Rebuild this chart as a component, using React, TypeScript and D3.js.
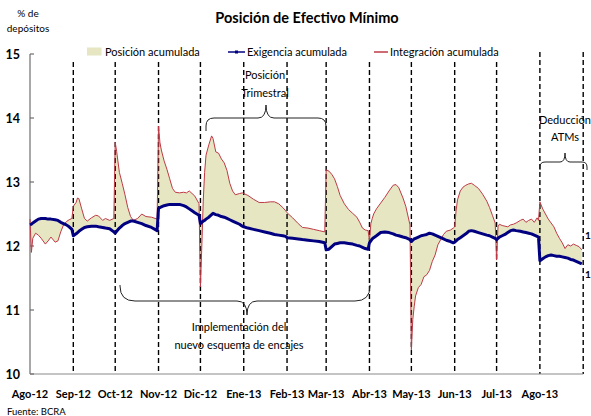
import React from "react";
import * as d3 from "d3";

const fechas = [
  "2012-08-01","2012-08-02","2012-08-03","2012-08-05","2012-08-07","2012-08-09","2012-08-12","2012-08-14","2012-08-16","2012-08-19","2012-08-21","2012-08-23","2012-08-25","2012-08-27","2012-08-29","2012-08-31",
  "2012-09-01","2012-09-03","2012-09-04","2012-09-05","2012-09-07","2012-09-09","2012-09-11","2012-09-14","2012-09-17","2012-09-19","2012-09-22","2012-09-24","2012-09-27","2012-09-30",
  "2012-10-01","2012-10-02","2012-10-04","2012-10-06","2012-10-08","2012-10-10","2012-10-12","2012-10-14","2012-10-17","2012-10-20","2012-10-23","2012-10-27","2012-10-31",
  "2012-11-01","2012-11-02","2012-11-03","2012-11-05","2012-11-07","2012-11-09","2012-11-11","2012-11-13","2012-11-16","2012-11-19","2012-11-21","2012-11-23","2012-11-25","2012-11-27","2012-11-30",
  "2012-12-01","2012-12-02","2012-12-03","2012-12-04","2012-12-05","2012-12-07","2012-12-09","2012-12-10","2012-12-12","2012-12-14","2012-12-16","2012-12-18","2012-12-20","2012-12-22","2012-12-24","2012-12-26","2012-12-29","2012-12-31",
  "2013-01-01","2013-01-04","2013-01-08","2013-01-12","2013-01-16","2013-01-20","2013-01-23","2013-01-26","2013-01-29","2013-01-31",
  "2013-02-01","2013-02-05","2013-02-09","2013-02-12","2013-02-16","2013-02-20","2013-02-24","2013-02-28",
  "2013-03-01","2013-03-03","2013-03-05","2013-03-07","2013-03-09","2013-03-11","2013-03-14","2013-03-17","2013-03-20","2013-03-23","2013-03-25","2013-03-27","2013-03-29","2013-03-31",
  "2013-04-01","2013-04-02","2013-04-03","2013-04-04","2013-04-06","2013-04-09","2013-04-12","2013-04-15","2013-04-18","2013-04-20","2013-04-22","2013-04-25","2013-04-27","2013-04-30",
  "2013-05-01","2013-05-02","2013-05-03","2013-05-04","2013-05-06","2013-05-08","2013-05-10","2013-05-12","2013-05-14","2013-05-16","2013-05-18","2013-05-20","2013-05-22","2013-05-24","2013-05-26","2013-05-29","2013-05-31",
  "2013-06-01","2013-06-02","2013-06-03","2013-06-05","2013-06-07","2013-06-09","2013-06-11","2013-06-13","2013-06-15","2013-06-18","2013-06-21","2013-06-24","2013-06-26","2013-06-28","2013-06-30",
  "2013-07-01","2013-07-02","2013-07-03","2013-07-05","2013-07-07","2013-07-09","2013-07-11","2013-07-13","2013-07-15","2013-07-18","2013-07-20","2013-07-22","2013-07-24","2013-07-26","2013-07-28","2013-07-30","2013-07-31",
  "2013-08-01","2013-08-03","2013-08-05","2013-08-07","2013-08-09","2013-08-11","2013-08-13","2013-08-15","2013-08-17","2013-08-19","2013-08-21","2013-08-23","2013-08-25","2013-08-27","2013-08-29","2013-08-31",
];

const exigencia = [
  12.33,12.34,12.36,12.39,12.42,12.43,12.43,12.42,12.42,12.41,12.40,12.37,12.35,12.33,12.30,12.26,
  12.16,12.19,12.21,12.23,12.26,12.29,12.30,12.31,12.31,12.30,12.29,12.28,12.27,12.22,
  12.20,12.23,12.28,12.32,12.35,12.37,12.39,12.39,12.37,12.35,12.32,12.29,12.24,
  12.59,12.60,12.61,12.63,12.64,12.65,12.65,12.65,12.65,12.63,12.61,12.58,12.55,12.52,12.48,
  12.35,12.37,12.39,12.40,12.42,12.45,12.49,12.51,12.49,12.48,12.46,12.45,12.43,12.41,12.39,12.37,12.34,12.31,
  12.30,12.28,12.26,12.24,12.22,12.20,12.18,12.17,12.16,12.15,
  12.13,12.12,12.11,12.10,12.09,12.08,12.07,12.05,
  11.94,11.95,11.99,12.03,12.04,12.05,12.05,12.04,12.03,12.01,12.00,11.98,11.96,11.95,
  12.05,12.08,12.11,12.13,12.16,12.21,12.22,12.21,12.19,12.17,12.16,12.14,12.13,12.10,
  12.07,12.09,12.11,12.12,12.14,12.16,12.17,12.18,12.20,12.19,12.17,12.15,12.13,12.11,12.09,12.07,12.05,
  12.06,12.08,12.10,12.13,12.16,12.19,12.23,12.24,12.23,12.21,12.19,12.17,12.16,12.14,12.12,
  12.10,12.12,12.14,12.16,12.18,12.21,12.24,12.25,12.24,12.23,12.22,12.21,12.20,12.19,12.17,12.15,12.14,
  11.77,11.80,11.83,11.85,11.86,11.85,11.84,11.84,11.83,11.82,11.81,11.79,11.78,11.76,11.74,11.72,
];

const integracion = [
  12.42,11.90,12.12,12.20,12.17,12.12,12.03,12.08,12.14,12.06,12.08,12.22,12.33,12.38,12.41,12.43,
  12.62,12.68,12.75,12.74,12.58,12.43,12.39,12.44,12.48,12.47,12.40,12.43,12.40,12.43,
  13.62,13.48,13.15,12.98,12.80,12.60,12.46,12.40,12.43,12.50,12.46,12.45,12.42,
  13.87,13.62,13.50,13.33,13.20,13.05,12.90,12.84,12.83,12.84,12.83,12.86,12.82,12.78,12.66,
  11.36,12.00,12.70,13.15,13.42,13.58,13.72,13.68,13.47,13.45,13.36,13.30,13.18,12.98,12.86,12.80,12.82,12.83,
  12.82,12.79,12.73,12.68,12.68,12.69,12.69,12.66,12.60,12.55,
  12.52,12.44,12.35,12.29,12.28,12.26,12.24,12.22,
  13.19,13.17,13.12,13.05,12.93,12.79,12.66,12.57,12.51,12.45,12.37,12.28,12.25,12.24,
  12.09,12.35,12.43,12.50,12.58,12.67,12.76,12.86,12.95,12.96,12.91,12.75,12.62,12.33,
  10.38,10.85,11.05,11.22,11.35,11.40,11.52,11.55,11.62,11.76,11.86,12.02,12.10,12.18,12.23,12.25,12.28,
  12.30,12.55,12.72,12.86,12.92,12.95,12.97,12.98,12.95,12.90,12.81,12.70,12.60,12.48,12.36,
  11.78,12.30,12.34,12.32,12.31,12.30,12.33,12.34,12.36,12.40,12.42,12.37,12.40,12.42,12.37,12.44,12.40,
  12.69,12.58,12.50,12.42,12.36,12.30,12.20,12.12,12.05,11.96,12.02,12.00,12.03,12.01,11.99,11.94,
];

const mesesEtiquetas = ["Ago-12","Sep-12","Oct-12","Nov-12","Dic-12","Ene-13","Feb-13","Mar-13","Abr-13","May-13","Jun-13","Jul-13","Ago-13"];
const mesesFechas = ["2012-08-01","2012-09-01","2012-10-01","2012-11-01","2012-12-01","2013-01-01","2013-02-01","2013-03-01","2013-04-01","2013-05-01","2013-06-01","2013-07-01","2013-08-01"];
const divisiones = ["2012-09-01","2012-10-01","2012-11-01","2012-12-01","2013-01-01","2013-02-01","2013-03-01","2013-04-01","2013-05-01","2013-06-01","2013-07-01","2013-08-01","2013-09-01"];
const yTicks = [10, 11, 12, 13, 14, 15];

const FONT = "Lato, 'Open Sans', 'DejaVu Sans', sans-serif";
const parse = d3.timeParse("%Y-%m-%d");

function brace(x1: number, x2: number, yl: number, endDy: number, tipX: number, tipDy: number, rEnd: number, rTip: number) {
  const sE = Math.sign(endDy);
  return [
    `M${x1},${yl + endDy}`,
    `L${x1},${yl + sE * rEnd}`,
    `Q${x1},${yl} ${x1 + rEnd},${yl}`,
    `L${tipX - rTip},${yl}`,
    `Q${tipX},${yl} ${tipX},${yl + tipDy}`,
    `Q${tipX},${yl} ${tipX + rTip},${yl}`,
    `L${x2 - rEnd},${yl}`,
    `Q${x2},${yl} ${x2},${yl + sE * rEnd}`,
    `L${x2},${yl + endDy}`,
  ].join(" ");
}

export default function App() {
  const x = d3.scaleTime().domain([parse("2012-08-01")!, parse("2013-09-01")!]).range([30, 583.2]);
  const y = d3.scaleLinear().domain([10, 15]).range([374, 54]);

  const data = fechas.map((f, i) => ({ d: parse(f)!, e: exigencia[i], g: integracion[i] }));

  const area = d3.area<any>().x((p) => x(p.d)).y0((p) => y(p.e)).y1((p) => y(p.g));
  const lineE = d3.line<any>().x((p) => x(p.d)).y((p) => y(p.e));
  const lineG = d3.line<any>().x((p) => x(p.d)).y((p) => y(p.g));

  const navy = "#000080";
  const red = "#BE3A46";
  const fill = "#E6E6C3";

  return (
    <div style={{ position: "absolute", left: 0, top: 0 }}>
      <svg width={591} height={416} style={{ display: "block", fontFamily: FONT }}>
        <rect x={0} y={0} width={591} height={416} fill="#fff" />
        {/* title */}
        <text x={307} y={23} textAnchor="middle" fontSize={14.5} fontWeight="bold" fill="#000">Posición de Efectivo Mínimo</text>
        <text x={28} y={17} textAnchor="middle" fontSize={10} fill="#000">% de</text>
        <text x={28} y={32} textAnchor="middle" fontSize={10} fill="#000">depósitos</text>

        {/* legend */}
        <rect x={87} y={47.5} width={14.5} height={8} fill={fill} />
        <text x={105} y={55.5} fontSize={11} fill="#000">Posición acumulada</text>
        <line x1={228} x2={245} y1={52} y2={52} stroke={navy} strokeWidth={1.5} />
        <rect x={235} y={50.5} width={3} height={3} fill={navy} />
        <text x={247} y={55.5} fontSize={11} fill="#000">Exigencia acumulada</text>
        <line x1={374} x2={388} y1={52} y2={52} stroke={red} strokeWidth={1.5} />
        <text x={390} y={55.5} fontSize={11} fill="#000">Integración acumulada</text>

        {/* area */}
        <path d={area(data) || ""} fill={fill} stroke="none" />

        {/* dashed month dividers */}
        {divisiones.map((f, i) => {
          const xx = x(parse(f)!);
          const top = i >= divisiones.length - 2 ? 52 : 62;
          return <line key={f} x1={xx} x2={xx} y1={top} y2={374} stroke="#000" strokeWidth={1.4} strokeDasharray="5,3" />;
        })}

        {/* axes */}
        <line x1={30} x2={30} y1={54} y2={374} stroke="#6e6e6e" strokeWidth={1.2} />
        <line x1={30} x2={583.2} y1={374} y2={374} stroke="#8a8a8a" strokeWidth={1.2} />
        {yTicks.map((t) => (
          <g key={t}>
            <line x1={30} x2={34} y1={y(t)} y2={y(t)} stroke="#6e6e6e" strokeWidth={1.2} />
            <text x={20} y={y(t) + 4.5} textAnchor="end" fontSize={12.5} fontWeight="bold" fill="#000">{t}</text>
          </g>
        ))}
        {mesesEtiquetas.map((m, i) => (
          <text key={m} x={x(parse(mesesFechas[i])!)} y={398} textAnchor="middle" fontSize={11} fontWeight="bold" fill="#000">{m}</text>
        ))}

        {/* lines */}
        <path d={lineG(data) || ""} fill="none" stroke={red} strokeWidth={1} />
        <path d={lineE(data) || ""} fill="none" stroke={navy} strokeWidth={3} strokeLinejoin="round" />

        {/* annotations */}
        <path d={brace(206, 326, 118, 13, 266, -13, 8, 8)} fill="none" stroke="#222" strokeWidth={1} />
        <text x={265} y={79} textAnchor="middle" fontSize={11} fill="#000">Posición</text>
        <text x={265} y={96.5} textAnchor="middle" fontSize={11} fill="#000">Trimestral</text>

        <path d={brace(120, 370, 301, -16, 247, 14, 15, 10)} fill="none" stroke="#222" strokeWidth={1} />
        <text x={239} y={331} textAnchor="middle" fontSize={11} fill="#000">Implementación del</text>
        <text x={239} y={349} textAnchor="middle" fontSize={11} fill="#000">nuevo esquema de encajes</text>

        <path d={brace(540, 587, 162, 8, 565, -9, 5, 5)} fill="none" stroke="#222" strokeWidth={1} />
        <text x={539} y={124} fontSize={11} fill="#000">Deducción</text>
        <text x={565} y={141} textAnchor="middle" fontSize={11} fill="#000">ATMs</text>

        <text x={585} y={239} fontSize={10} fontWeight="bold" fill="#000">1</text>
        <text x={585} y={278} fontSize={10} fontWeight="bold" fill="#000">1</text>

        <text x={7} y={415} fontSize={9.5} fill="#000">Fuente: BCRA</text>
      </svg>
    </div>
  );
}
